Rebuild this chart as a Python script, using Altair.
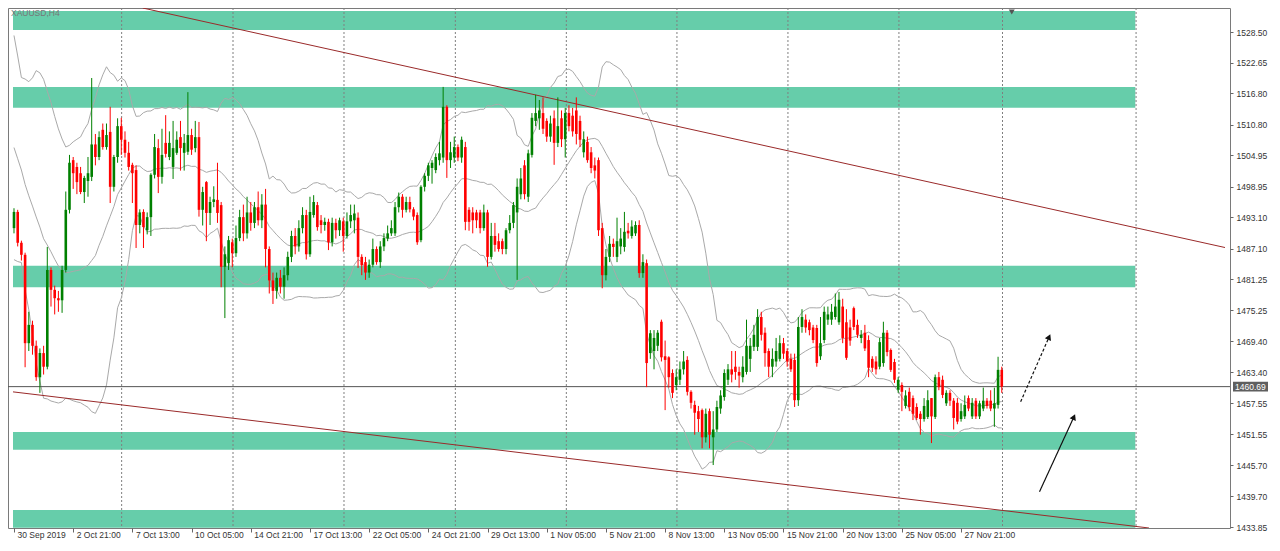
import json
import altair as alt
import pandas as pd

# ---------------- data (XAUUSD H4) ----------------
open_ = [
    1491.0, 1494.1, 1488.2, 1485.9, 1469.0, 1472.5, 1468.5, 1462.5, 1467.1, 1464.5,
    1483.0, 1479.2, 1477.6, 1477.2, 1483.0, 1494.5, 1504.0, 1502.7, 1501.5, 1497.9,
    1500.0, 1500.8, 1507.0, 1504.6, 1509.8, 1506.5, 1509.4, 1498.9, 1504.6, 1510.5,
    1507.9, 1505.4, 1503.1, 1502.1, 1491.6, 1494.1, 1490.6, 1493.1, 1501.2, 1506.3,
    1500.8, 1507.3, 1504.6, 1502.7, 1505.4, 1508.4, 1505.4, 1505.6, 1508.8, 1506.3,
    1508.4, 1494.5, 1499.8, 1493.9, 1496.0, 1496.4, 1495.4, 1483.6, 1484.3, 1488.3,
    1486.2, 1489.1, 1493.1, 1490.0, 1494.0, 1492.0, 1495.0, 1492.5, 1495.5, 1487.0,
    1481.0, 1479.0, 1481.5, 1479.8, 1482.0, 1485.5, 1489.5, 1487.5, 1491.0, 1493.5,
    1486.0, 1493.5, 1495.4, 1492.5, 1491.6, 1492.2, 1488.3, 1492.0, 1490.6, 1492.3,
    1489.5, 1492.3, 1492.5, 1493.0, 1485.5, 1484.5, 1482.5, 1484.0, 1487.0, 1484.5,
    1487.5, 1489.0, 1490.0, 1490.0, 1495.0, 1497.0, 1494.5, 1496.0, 1494.6, 1493.5,
    1488.7, 1498.9, 1501.0, 1502.5, 1502.1, 1504.0, 1504.5, 1514.2, 1504.0, 1504.5,
    1506.5, 1504.5, 1506.5, 1494.5, 1494.0, 1494.0, 1494.0, 1491.0, 1494.0, 1485.5,
    1489.5, 1488.5, 1488.5, 1487.0, 1490.6, 1492.0, 1494.0, 1497.5, 1503.0, 1497.0,
    1505.0, 1511.5, 1512.0, 1513.0, 1511.5, 1508.5, 1512.0, 1507.3, 1512.0, 1508.0,
    1513.0, 1512.5, 1513.5, 1511.5, 1505.5, 1507.5, 1505.5, 1503.0, 1504.0, 1491.0,
    1482.0, 1485.5, 1488.0, 1485.5, 1487.5, 1487.4, 1490.5, 1489.5, 1490.0, 1491.6,
    1482.4, 1484.3, 1467.1, 1467.5, 1468.5, 1473.1, 1466.5, 1466.3, 1463.3, 1461.0,
    1462.0, 1464.0, 1465.8, 1459.7, 1457.2, 1456.0, 1456.2, 1451.0, 1456.0, 1451.0,
    1452.5, 1456.5, 1458.7, 1462.0, 1464.0, 1464.5, 1463.5, 1462.5, 1463.5, 1466.0,
    1468.3, 1468.3, 1474.0, 1471.0, 1467.5, 1464.5, 1465.5, 1466.0, 1469.0, 1467.5,
    1466.0, 1465.8, 1458.1, 1472.1, 1473.5, 1473.0, 1472.0, 1471.9, 1466.5, 1469.6,
    1473.5, 1473.5, 1474.0, 1473.0, 1476.0, 1473.0, 1472.0, 1475.7, 1472.5, 1470.0,
    1471.0, 1469.6, 1466.0, 1465.5, 1464.5, 1465.2, 1471.0, 1467.7, 1465.4, 1460.1,
    1461.0, 1457.0, 1459.7, 1458.5, 1456.8, 1455.5, 1454.5, 1454.9, 1458.5, 1454.9,
    1462.5, 1462.0, 1457.5, 1459.5, 1458.0, 1457.6, 1454.5, 1455.0, 1458.5, 1455.0,
    1458.0, 1455.0, 1456.5, 1458.0, 1458.0, 1456.5, 1457.2, 1463.9,
]
high = [
    1494.8, 1494.5, 1488.6, 1486.3, 1475.0, 1473.3, 1469.5, 1468.0, 1468.5, 1487.4,
    1483.5, 1480.0, 1479.0, 1483.8, 1498.0, 1505.0, 1504.6, 1503.5, 1502.7, 1501.0,
    1504.6, 1519.7, 1509.0, 1509.5, 1511.0, 1511.0, 1514.2, 1505.0, 1512.0, 1512.1,
    1509.5, 1507.5, 1503.5, 1503.0, 1494.6, 1494.6, 1494.0, 1501.5, 1509.0, 1508.0,
    1510.0, 1512.6, 1509.5, 1511.5, 1509.5, 1511.5, 1509.0, 1517.0, 1510.0, 1511.5,
    1511.3, 1498.9, 1500.0, 1497.0, 1499.0, 1503.5, 1496.0, 1487.5, 1489.5, 1489.0,
    1491.5, 1494.5, 1495.5, 1497.0, 1496.0, 1496.0, 1498.0, 1497.5, 1498.5, 1487.5,
    1482.5, 1482.5, 1483.0, 1483.5, 1486.5, 1490.5, 1491.0, 1492.5, 1495.0, 1494.5,
    1497.0, 1497.3, 1496.0, 1493.5, 1493.0, 1492.8, 1493.0, 1492.8, 1493.0, 1493.0,
    1494.0, 1495.5, 1495.5, 1494.0, 1486.0, 1485.5, 1485.0, 1489.0, 1487.5, 1488.5,
    1490.0, 1491.5, 1492.5, 1496.0, 1497.8, 1497.5, 1497.0, 1497.0, 1495.0, 1494.0,
    1499.2, 1501.5, 1503.5, 1504.0, 1505.3, 1507.5, 1518.0, 1514.5, 1507.5, 1508.5,
    1507.0, 1508.5, 1507.5, 1495.0, 1495.0, 1494.5, 1494.5, 1495.5, 1494.5, 1492.0,
    1492.0, 1490.0, 1489.0, 1491.0, 1493.5, 1496.0, 1500.5, 1502.5, 1504.0, 1506.0,
    1513.0, 1516.5, 1515.5, 1516.0, 1512.0, 1512.5, 1513.5, 1516.0, 1513.5, 1514.0,
    1514.5, 1514.0, 1516.0, 1512.5, 1509.5, 1508.5, 1506.5, 1504.5, 1504.5, 1492.0,
    1487.0, 1489.5, 1489.0, 1493.0, 1491.0, 1494.1, 1492.0, 1492.5, 1492.3, 1492.5,
    1486.0, 1485.0, 1471.5, 1471.5, 1471.5, 1473.5, 1469.5, 1466.5, 1464.0, 1464.0,
    1465.5, 1467.5, 1466.5, 1460.0, 1458.0, 1457.0, 1456.5, 1456.5, 1456.5, 1456.0,
    1458.0, 1460.0, 1464.0, 1465.0, 1467.5, 1467.5, 1464.5, 1466.5, 1473.5, 1470.0,
    1472.5, 1475.5, 1475.0, 1472.0, 1468.0, 1468.0, 1470.0, 1470.5, 1470.0, 1468.0,
    1467.0, 1467.0, 1474.0, 1475.5, 1474.5, 1473.5, 1472.5, 1472.5, 1474.0, 1476.0,
    1476.0, 1476.5, 1478.5, 1478.8, 1477.5, 1475.5, 1473.5, 1476.0, 1473.5, 1471.5,
    1472.5, 1470.5, 1466.5, 1466.5, 1470.0, 1473.1, 1471.5, 1468.0, 1466.0, 1462.5,
    1461.5, 1460.0, 1460.5, 1459.0, 1457.5, 1456.0, 1458.5, 1460.0, 1458.5, 1463.0,
    1463.5, 1462.8, 1460.0, 1460.0, 1458.5, 1458.5, 1457.5, 1459.0, 1459.0, 1458.5,
    1458.5, 1458.0, 1460.5, 1458.5, 1460.0, 1460.5, 1466.4, 1464.5,
]
low = [
    1490.0, 1487.5, 1484.8, 1464.4, 1467.5, 1466.8, 1461.8, 1459.5, 1463.0, 1464.0,
    1476.0, 1474.5, 1475.0, 1474.8, 1482.5, 1493.8, 1498.5, 1497.5, 1497.5, 1495.8,
    1497.0, 1500.0, 1503.0, 1504.0, 1506.0, 1506.0, 1495.8, 1498.0, 1503.5, 1505.0,
    1504.5, 1502.0, 1495.8, 1487.2, 1490.0, 1487.2, 1489.8, 1489.5, 1500.5, 1497.7,
    1499.5, 1504.5, 1504.0, 1500.4, 1505.0, 1502.0, 1502.0, 1505.0, 1505.0, 1505.5,
    1493.2, 1491.5, 1488.5, 1491.6, 1495.0, 1492.0, 1479.7, 1473.8, 1483.0, 1483.5,
    1485.5, 1488.5, 1488.5, 1489.0, 1490.5, 1491.0, 1491.5, 1491.0, 1483.5, 1478.5,
    1476.5, 1477.5, 1478.5, 1477.5, 1481.0, 1484.5, 1486.0, 1486.5, 1490.0, 1485.0,
    1485.5, 1493.0, 1490.5, 1490.0, 1490.5, 1486.8, 1487.5, 1489.0, 1489.5, 1486.5,
    1489.0, 1491.0, 1490.0, 1483.4, 1482.0, 1481.1, 1481.5, 1483.5, 1484.0, 1483.4,
    1486.6, 1488.5, 1489.5, 1489.5, 1494.0, 1493.0, 1494.0, 1494.0, 1492.5, 1487.8,
    1488.3, 1498.0, 1500.0, 1499.5, 1501.5, 1503.0, 1503.5, 1500.6, 1502.5, 1503.5,
    1503.8, 1503.5, 1490.6, 1490.5, 1490.0, 1491.0, 1490.0, 1490.5, 1483.6, 1485.0,
    1486.5, 1486.5, 1486.0, 1486.0, 1490.0, 1491.0, 1481.1, 1496.5, 1496.5, 1496.0,
    1504.5, 1510.5, 1509.8, 1509.0, 1507.5, 1507.5, 1503.1, 1506.5, 1506.5, 1504.5,
    1509.5, 1508.5, 1507.0, 1506.5, 1504.5, 1503.5, 1501.5, 1500.5, 1489.5, 1479.5,
    1481.0, 1484.5, 1485.5, 1484.5, 1486.0, 1486.5, 1489.0, 1489.0, 1489.5, 1481.5,
    1481.5, 1460.6, 1466.0, 1464.0, 1467.5, 1465.5, 1456.2, 1460.5, 1458.5, 1460.0,
    1461.0, 1463.0, 1459.0, 1456.5, 1451.5, 1452.0, 1448.9, 1450.0, 1448.9, 1445.7,
    1452.0, 1455.5, 1458.0, 1461.0, 1461.5, 1462.0, 1460.5, 1461.5, 1463.0, 1463.5,
    1467.5, 1467.5, 1469.5, 1464.5, 1462.5, 1462.5, 1464.5, 1465.5, 1466.0, 1464.5,
    1463.5, 1456.8, 1457.0, 1471.0, 1471.0, 1470.5, 1469.0, 1464.5, 1465.8, 1469.0,
    1472.5, 1472.5, 1473.5, 1472.5, 1469.0, 1465.8, 1468.5, 1471.5, 1470.0, 1469.0,
    1467.5, 1462.5, 1463.5, 1463.0, 1464.0, 1464.5, 1466.5, 1463.5, 1461.4, 1459.5,
    1456.0, 1456.5, 1456.0, 1454.3, 1454.3, 1451.5, 1454.0, 1454.5, 1449.9, 1454.5,
    1460.0, 1458.5, 1457.0, 1457.0, 1452.5, 1453.5, 1454.0, 1454.5, 1456.0, 1454.5,
    1454.5, 1454.5, 1456.0, 1456.5, 1456.0, 1453.0, 1456.5, 1459.5,
]
close = [
    1494.1, 1488.2, 1485.9, 1469.0, 1472.5, 1468.5, 1462.5, 1467.1, 1464.5, 1483.0,
    1479.2, 1477.6, 1477.2, 1483.0, 1494.5, 1503.5, 1501.5, 1499.8, 1497.9, 1500.6,
    1501.5, 1507.0, 1504.6, 1508.4, 1506.5, 1508.8, 1498.9, 1504.6, 1510.5, 1507.9,
    1505.4, 1502.7, 1501.5, 1491.6, 1494.0, 1491.2, 1493.1, 1501.2, 1506.5, 1500.8,
    1505.0, 1505.2, 1507.3, 1506.3, 1507.9, 1506.3, 1507.3, 1508.8, 1506.0, 1508.4,
    1494.5, 1497.9, 1493.9, 1496.0, 1496.5, 1493.9, 1483.6, 1486.0, 1488.7, 1486.2,
    1489.1, 1493.1, 1490.0, 1494.0, 1492.0, 1495.0, 1492.5, 1495.5, 1487.0, 1481.0,
    1479.0, 1481.5, 1479.8, 1482.0, 1485.5, 1489.5, 1487.5, 1491.0, 1493.5, 1486.0,
    1494.1, 1496.0, 1491.2, 1491.6, 1492.2, 1488.3, 1492.0, 1490.6, 1492.5, 1489.5,
    1492.3, 1493.5, 1493.8, 1485.5, 1483.9, 1482.5, 1484.0, 1487.0, 1484.5, 1487.5,
    1489.1, 1490.0, 1491.0, 1495.0, 1497.0, 1494.5, 1496.0, 1494.6, 1493.2, 1488.3,
    1498.9, 1501.0, 1503.0, 1503.5, 1504.6, 1505.3, 1514.2, 1504.0, 1505.5, 1506.5,
    1504.5, 1507.9, 1492.2, 1492.2, 1492.5, 1492.5, 1491.0, 1494.0, 1485.5, 1489.5,
    1487.8, 1487.0, 1487.0, 1490.6, 1492.0, 1495.4, 1498.9, 1500.5, 1497.5, 1505.3,
    1512.1, 1513.0, 1513.5, 1510.0, 1508.5, 1511.0, 1507.3, 1510.5, 1508.0, 1513.0,
    1510.5, 1509.5, 1509.0, 1507.9, 1508.0, 1504.0, 1502.5, 1502.0, 1490.6, 1482.0,
    1485.5, 1488.0, 1487.4, 1488.5, 1489.0, 1490.3, 1490.0, 1491.3, 1491.6, 1482.4,
    1484.5, 1465.2, 1470.9, 1470.0, 1471.0, 1466.3, 1465.8, 1462.5, 1459.5, 1462.5,
    1464.0, 1465.5, 1459.7, 1457.6, 1455.7, 1454.5, 1451.0, 1455.5, 1451.5, 1452.5,
    1456.8, 1459.0, 1463.3, 1464.0, 1463.0, 1463.5, 1462.8, 1464.5, 1468.5, 1468.5,
    1470.6, 1474.0, 1470.6, 1467.1, 1464.5, 1466.0, 1467.5, 1469.0, 1467.0, 1465.5,
    1464.0, 1458.1, 1472.1, 1474.0, 1472.0, 1471.5, 1469.6, 1465.2, 1469.0, 1475.0,
    1474.5, 1475.0, 1476.0, 1477.3, 1470.0, 1466.2, 1469.5, 1472.1, 1470.6, 1470.6,
    1468.0, 1464.3, 1464.3, 1464.0, 1469.2, 1471.0, 1467.3, 1463.9, 1462.0, 1462.0,
    1459.7, 1459.0, 1456.8, 1455.5, 1454.7, 1454.5, 1457.0, 1458.1, 1455.0, 1462.5,
    1460.6, 1459.1, 1459.5, 1458.0, 1454.7, 1454.0, 1456.0, 1457.2, 1456.5, 1457.6,
    1455.0, 1457.5, 1458.0, 1457.0, 1456.5, 1457.5, 1463.9, 1460.69,
]
# closes of the 19 bars before the first visible bar (feed the 20-bar Bollinger window)
pre_close = [1531.0, 1529.0, 1524.0, 1516.0, 1508.0, 1504.0, 1506.0, 1509.0, 1507.0, 1505.0,
             1506.0, 1503.0, 1500.0, 1503.0, 1502.0, 1498.0, 1497.0, 1495.0, 1491.0]

x_label_idx = [0, 16, 32, 48, 64, 80, 96, 112, 128, 144, 160, 176, 192, 208, 224, 240, 256]
x_labels = ["30 Sep 2019", "2 Oct 21:00", "7 Oct 13:00", "10 Oct 05:00", "14 Oct 21:00",
            "17 Oct 13:00", "22 Oct 05:00", "24 Oct 21:00", "29 Oct 13:00", "1 Nov 05:00",
            "5 Nov 21:00", "8 Nov 13:00", "13 Nov 05:00", "15 Nov 21:00", "20 Nov 13:00",
            "25 Nov 05:00", "27 Nov 21:00"]
y_ticks = [1528.50, 1522.65, 1516.80, 1510.80, 1504.95, 1498.95, 1493.10, 1487.10, 1481.25,
           1475.25, 1469.40, 1463.40, 1457.55, 1451.55, 1445.70, 1439.70, 1433.85]
grid_idx = [29.1, 59.2, 89.2, 119.3, 149.3, 179.2, 209.2, 239.2, 267.2, 303.3]

X_MIN, X_MAX = -0.27, 327.34
Y_MIN, Y_MAX = 1433.66, 1533.09

zone_lo = [1528.9, 1514.0, 1479.7, 1448.6, 1433.7]
zone_hi = [1532.5, 1518.0, 1483.8, 1452.0, 1437.1]
zone_end = 303.1

trend_id = ["upper", "upper", "lower", "lower"]
trend_i = [34.8, 327.34, -0.27, 306.8]
trend_p = [1533.09, 1487.29, 1459.69, 1433.66]

arrow_id = ["dash", "dash", "solid", "solid"]
arrow_i = [272.1, 279.8, 277.2, 286.5]
arrow_p = [1457.8, 1470.2, 1440.6, 1454.9]
head_i = [279.8, 286.5]
head_p = [1470.2, 1454.9]

last_price = 1460.69
marker_i = [269.7]
symbol_title = "XAUUSD,H4"

# ---------------- tables ----------------
n = len(close)
assert len(open_) == n and len(high) == n and len(low) == n
candles = pd.DataFrame({"i": list(range(n)), "open": open_, "high": high, "low": low, "close": close})
candles["dir"] = ["up" if c >= o else "down" for o, c in zip(open_, close)]
bb_df = pd.DataFrame({"i": list(range(-len(pre_close), 0)) + list(range(n)), "close": pre_close + close})
zones = pd.DataFrame({"lo": zone_lo, "hi": zone_hi,
                      "x0": [X_MIN] * len(zone_lo), "x1": [zone_end] * len(zone_lo)})
grid_df = pd.DataFrame({"g": grid_idx})
trend_df = pd.DataFrame({"line": trend_id, "i": trend_i, "p": trend_p})
arrow_df = pd.DataFrame({"arrow": arrow_id, "i": arrow_i, "p": arrow_p})
head_df = pd.DataFrame({"i": head_i, "p": head_p})
price_df = pd.DataFrame({"p": [last_price], "lbl": [f"{last_price:.2f}"]})
marker_df = pd.DataFrame({"i": marker_i})
title_df = pd.DataFrame({"t": [symbol_title]})

# ---------------- scales / axes ----------------
W, H = 1222, 520
FONT = "Liberation Sans"
xs = alt.Scale(domain=[X_MIN, X_MAX], nice=False, zero=False)
ys = alt.Scale(domain=[Y_MIN, Y_MAX], nice=False, zero=False)

label_expr = json.dumps(x_labels) + "[indexof(" + json.dumps(x_label_idx) + ", datum.value)]"
xaxis = alt.Axis(values=x_label_idx, labelExpr=label_expr, title=None, grid=False, domain=False,
                 tickSize=4, tickColor="#666666", labelAlign="left", labelBaseline="top",
                 labelPadding=-2, labelOffset=3, labelFont=FONT, labelFontSize=8.5,
                 labelColor="#333333", labelOverlap=False, labelFlush=False, labelBound=False)
yaxis = alt.Axis(orient="right", values=y_ticks, format=".2f", title=None, grid=False, domain=False,
                 tickSize=3, tickColor="#666666", labelPadding=3, labelFont=FONT, labelFontSize=8.5,
                 labelColor="#333333", labelOverlap=False, labelFlush=False)


def X(f):
    return alt.X(f, type="quantitative", scale=xs, axis=xaxis)


def Y(f):
    return alt.Y(f, type="quantitative", scale=ys, axis=yaxis)


dir_color = alt.Color("dir:N", scale=alt.Scale(domain=["up", "down"], range=["#008000", "#ff0000"]), legend=None)

zone_layer = alt.Chart(zones).mark_rect(color="#66cdaa", clip=True).encode(
    x=X("x0"), x2="x1", y=Y("lo"), y2="hi")

grid_layer = alt.Chart(grid_df).mark_rule(color="#7f7f7f", strokeDash=[2, 2], strokeWidth=1).encode(x=X("g"))

bb_layer = (
    alt.Chart(bb_df)
    .transform_calculate(c2="datum.close * datum.close")
    .transform_window(ma="mean(close)", m2="mean(c2)", frame=[-19, 0], sort=[{"field": "i"}])
    .transform_calculate(sd="sqrt(max(0, datum.m2 - datum.ma * datum.ma))")
    .transform_calculate(upper="datum.ma + 2 * datum.sd", lower="datum.ma - 2 * datum.sd")
    .transform_filter("datum.i >= 0")
    .transform_fold(["ma", "upper", "lower"], as_=["band", "val"])
    .mark_line(color="#a9a9a9", strokeWidth=1, clip=True)
    .encode(x=X("i"), y=Y("val"), detail="band:N", order="i:Q")
)

trend_layer = alt.Chart(trend_df).mark_line(color="#9a2a2a", strokeWidth=1, clip=True).encode(
    x=X("i"), y=Y("p"), detail="line:N")

price_line = alt.Chart(price_df).mark_rule(color="#555555", strokeWidth=1).encode(y=Y("p"))

wick_layer = alt.Chart(candles).mark_rule(strokeWidth=1).encode(
    x=X("i"), y=Y("low"), y2="high", color=dir_color)
body_layer = alt.Chart(candles).mark_bar(size=2.6).encode(
    x=X("i"), y=Y("open"), y2="close", color=dir_color)

arrow_layer = alt.Chart(arrow_df).mark_line(color="#111111", strokeWidth=1.2, clip=False).encode(
    x=X("i"), y=Y("p"), detail="arrow:N",
    strokeDash=alt.StrokeDash("arrow:N", scale=alt.Scale(domain=["dash", "solid"], range=[[3, 2], [1, 0]]), legend=None))
head_layer = alt.Chart(head_df).mark_point(shape="triangle-up", filled=True, size=45, angle=24,
                                           color="#111111", opacity=1).encode(x=X("i"), y=Y("p"))

marker_layer = alt.Chart(marker_df).mark_point(shape="triangle-down", filled=True, size=36,
                                               color="#555555", opacity=1).encode(x=X("i"), y=alt.value(4))

pbox = (alt.Chart(price_df)
        .transform_calculate(hi="datum.p + 0.95", lo="datum.p - 0.95")
        .mark_rect(color="#5f5f5f")
        .encode(x=alt.value(W + 3), x2=alt.value(W + 38), y=Y("hi"), y2="lo"))
ptext = alt.Chart(price_df).mark_text(align="left", baseline="middle", color="white",
                                      fontSize=8.5, font=FONT).encode(
    x=alt.value(W + 5), y=Y("p"), text="lbl:N")

title_layer = alt.Chart(title_df).mark_text(align="left", baseline="middle", color="#777777",
                                            fontSize=8.5, font=FONT).encode(
    x=alt.value(3), y=alt.value(5), text="t:N")

chart = (
    alt.layer(zone_layer, grid_layer, bb_layer, trend_layer, price_line, wick_layer, body_layer,
              arrow_layer, head_layer, marker_layer, pbox, ptext, title_layer)
    .properties(width=W, height=H, background="white",
                autosize=alt.AutoSizeParams(type="none"),
                padding={"left": 0, "top": 0, "right": 42, "bottom": 14})
    .configure_view(stroke="#7a7a7a", strokeWidth=1)
)

chart.save("out.html", embed_options={"renderer": "svg", "actions": False})
